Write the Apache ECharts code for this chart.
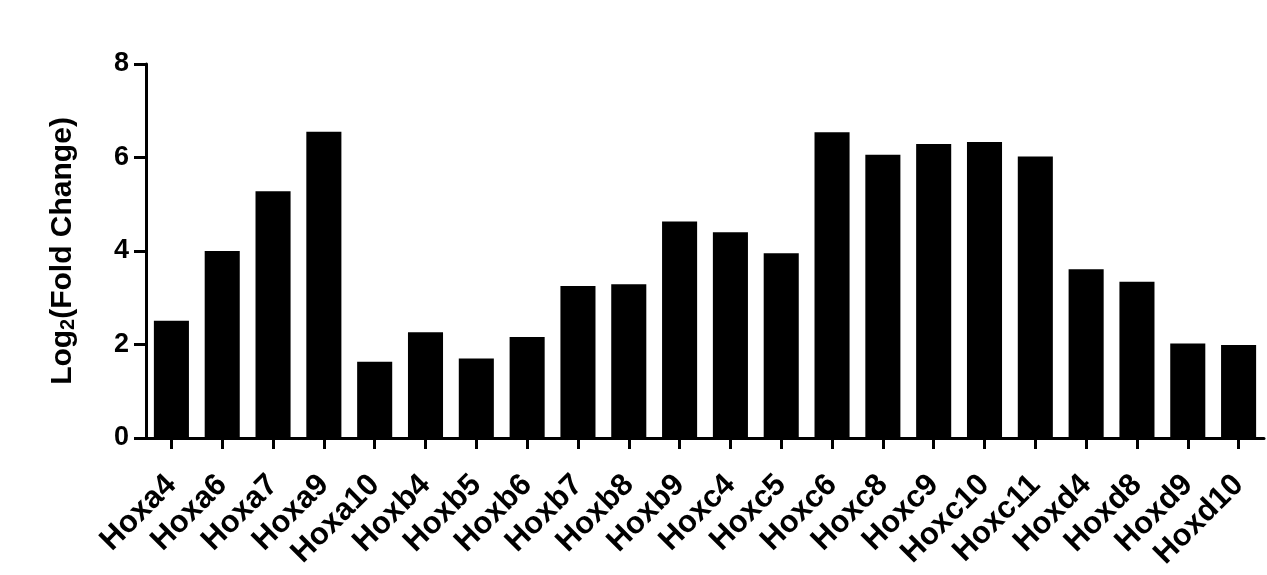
<!DOCTYPE html>
<html>
<head>
<meta charset="utf-8">
<script src="https://cdn.jsdelivr.net/npm/echarts@6/dist/echarts.min.js"></script>
<style>
html,body{margin:0;padding:0;background:#fff;}
#chart{width:1267px;height:575px;}
</style>
</head>
<body>
<div id="chart"></div>
<script>
const categories = ['Hoxa4','Hoxa6','Hoxa7','Hoxa9','Hoxa10','Hoxb4','Hoxb5','Hoxb6','Hoxb7','Hoxb8','Hoxb9','Hoxc4','Hoxc5','Hoxc6','Hoxc8','Hoxc9','Hoxc10','Hoxc11','Hoxd4','Hoxd8','Hoxd9','Hoxd10'];
const foldChange = [2.51,4.00,5.28,6.55,1.63,2.26,1.70,2.16,3.25,3.29,4.63,4.40,3.95,6.54,6.06,6.29,6.33,6.02,3.61,3.34,2.02,1.99];
const yTicks = {min:0, max:8, interval:2};

const FONT = '"Liberation Sans", Arial, sans-serif';
const chart = echarts.init(document.getElementById('chart'), null, {renderer:'canvas'});
chart.setOption({
  backgroundColor:'#fff',
  animation:false,
  grid:{left:146, right:3, top:64, bottom:137, containLabel:false},
  xAxis:{
    type:'category',
    data:categories,
    boundaryGap:true,
    axisLine:{show:true, lineStyle:{color:'#000', width:3}},
    axisTick:{show:true, alignWithLabel:true, length:11, lineStyle:{color:'#000', width:3}},
    axisLabel:{interval:0, rotate:45, margin:42, color:'#000', fontFamily:FONT, fontWeight:'bold', fontSize:31},
    splitLine:{show:false}
  },
  yAxis:{
    type:'value',
    min:yTicks.min, max:yTicks.max, interval:yTicks.interval,
    name:'{a|Log}{b|2}{a|(Fold Change)}',
    nameLocation:'middle',
    nameGap:68,
    nameRotate:90,
    nameTextStyle:{
      color:'#000', fontFamily:FONT, fontWeight:'bold', fontSize:30,
      rich:{
        a:{color:'#000', fontFamily:FONT, fontWeight:'bold', fontSize:30, lineHeight:30},
        b:{color:'#000', fontFamily:FONT, fontWeight:'bold', fontSize:20, lineHeight:18, verticalAlign:'bottom'}
      }
    },
    axisLine:{show:true, lineStyle:{color:'#000', width:3}},
    axisTick:{show:true, inside:false, length:12, lineStyle:{color:'#000', width:3}},
    axisLabel:{color:'#000', fontFamily:FONT, fontWeight:'bold', fontSize:27, margin:17},
    splitLine:{show:false}
  },
  series:[{
    type:'bar',
    data:foldChange,
    barCategoryGap:'31%',
    itemStyle:{color:'#000'}
  }]
});
</script>
</body>
</html>
